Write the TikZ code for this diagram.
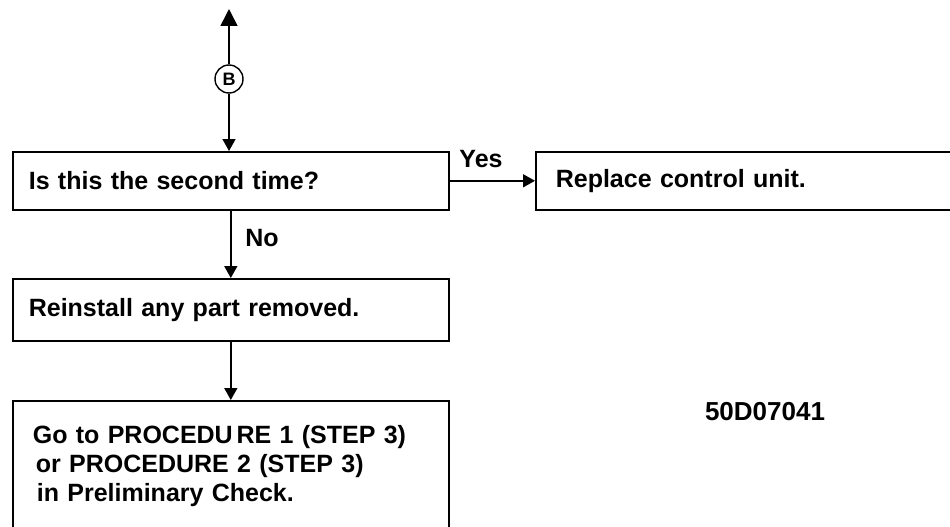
\documentclass[tikz,border=0pt]{standalone}
\usepackage{fontspec}
\setmainfont{Liberation Sans}
\usetikzlibrary{arrows.meta}
\begin{document}
\begin{tikzpicture}[x=1pt,y=-1pt,
  every node/.style={font=\fontsize{25}{29}\selectfont\bfseries},
  box/.style={draw, line width=1.6pt, anchor=north west, inner xsep=16pt, inner ysep=0pt, align=left},
  conn/.style={line width=1.6pt, -{Triangle[length=12pt,width=13pt]}},
  lbl/.style={inner sep=0pt}]
\clip (0,0) rectangle (950,527);
\node[box, minimum width=436pt, minimum height=58pt, text width=404pt] (q) at (12,151) {Is this the second time?};
\node[box, minimum width=440pt, minimum height=58pt, text width=400pt] (rep) at (535,151) {Replace control unit.};
\node[box, minimum width=436pt, minimum height=62pt, text width=404pt] (rein) at (12,278) {Reinstall any part removed.};
\node[box, minimum width=436pt, minimum height=131pt, text width=396pt, inner xsep=20pt] (go) at (12,400)
  {Go to PROCEDU\hspace{0.15em}RE 1 (STEP 3)\\\hspace*{3pt}or PROCEDURE 2 (STEP 3)\\\hspace*{4pt}in Preliminary Check.};
\node[draw, circle, line width=1.4pt, minimum size=28pt, inner sep=0pt, font=\fontsize{18}{18}\selectfont\bfseries] (b) at (229,79) {B};
\coordinate (top) at (229,9);
\draw[line width=1.6pt, -{Triangle[length=17pt,width=17pt]}] (b.north) -- (top);
\draw[conn] (b.south) -- (b.south |- q.north);
\draw[conn] (q.east) -- (rep.west);
\draw[conn] (q.south) -- (rein.north);
\draw[conn] (rein.south) -- (go.north);
\node[lbl] (yes) at (481,159) {Yes};
\node[lbl] (no) at (262,238) {No};
\node[lbl, font=\fontsize{26}{26}\selectfont\bfseries] (code) at (765,412) {50D07041};
\end{tikzpicture}
\end{document}
